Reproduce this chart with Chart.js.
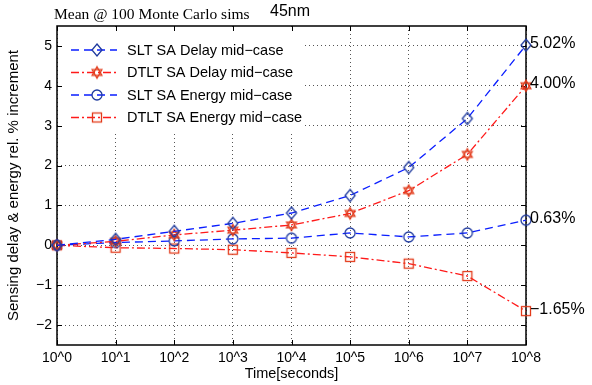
<!DOCTYPE html>
<html><head><meta charset="utf-8">
<script src="https://cdn.jsdelivr.net/npm/chart.js@4/dist/chart.umd.min.js"></script>
<style>html,body{margin:0;padding:0;background:#fff;overflow:hidden}</style>
</head><body>
<canvas id="c" width="592" height="385" style="width:592px;height:385px;display:block"></canvas>
<script>
// ---- data ----
const xLabels = ['10^0','10^1','10^2','10^3','10^4','10^5','10^6','10^7','10^8'];
const yTicks = [-2,-1,0,1,2,3,4,5];
const seriesNames = ['SLT SA Delay mid\u2212case','DTLT SA Delay mid\u2212case','SLT SA Energy mid\u2212case','DTLT SA Energy mid\u2212case'];
const sltDelay   = [0, 0.15, 0.35, 0.55, 0.81, 1.25, 1.95, 3.18, 5.02];
const dtltDelay  = [0, 0.10, 0.26, 0.38, 0.51, 0.80, 1.37, 2.28, 4.00];
const sltEnergy  = [0, 0.07, 0.11, 0.16, 0.18, 0.31, 0.21, 0.31, 0.63];
const dtltEnergy = [0, -0.06, -0.08, -0.11, -0.19, -0.29, -0.46, -0.77, -1.65];
const endLabels  = ['5.02%','4.00%','0.63%','\u22121.65%'];
const titleText = 'Mean @ 100 Monte Carlo sims';
const subText = '45nm';
const xTitle = 'Time[seconds]';
const yTitle = 'Sensing delay & energy rel. % increment';

// ---- styles ----
const BLUE = '#0a1eff', RED = '#ff1a1a', MBLUE = '#1f3a9e', MRED = '#e23a1a';
const SANS = '"Liberation Sans", Arial, sans-serif';
const SERIF = '"Liberation Serif", "Times New Roman", serif';

function mk(w, h, draw) {
  const c = document.createElement('canvas'); c.width = w; c.height = h;
  const g = c.getContext('2d'); draw(g, w / 2, h / 2); return c;
}
const diamondImg = mk(14, 16, (g, cx, cy) => {
  g.strokeStyle = MBLUE; g.lineWidth = 1.3; g.beginPath();
  g.moveTo(cx, cy - 6); g.lineTo(cx + 5, cy); g.lineTo(cx, cy + 6); g.lineTo(cx - 5, cy); g.closePath(); g.stroke();
});
const hexImg = mk(16, 16, (g, cx, cy) => {
  g.strokeStyle = MRED; g.lineWidth = 1.3; const r = 5.6;
  for (const off of [-Math.PI / 2, Math.PI / 2]) {
    g.beginPath();
    for (let k = 0; k < 3; k++) { const a = off + k * 2 * Math.PI / 3; const px = cx + r * Math.cos(a), py = cy + r * Math.sin(a); k ? g.lineTo(px, py) : g.moveTo(px, py); }
    g.closePath(); g.stroke();
  }
});
const circleImg = mk(14, 14, (g, cx, cy) => {
  g.strokeStyle = MBLUE; g.lineWidth = 1.3; g.beginPath(); g.arc(cx, cy, 5, 0, Math.PI * 2); g.stroke();
});
const squareImg = mk(14, 14, (g, cx, cy) => {
  g.strokeStyle = MRED; g.lineWidth = 1.3; g.strokeRect(cx - 4.5, cy - 4.5, 9, 9);
});
const markers = [diamondImg, hexImg, circleImg, squareImg];
const lineColors = [BLUE, RED, BLUE, RED];
const dashes = [[8, 5], [8, 3, 2, 3], [8, 5], [8, 3, 2, 3]];
const seriesData = [sltDelay, dtltDelay, sltEnergy, dtltEnergy];

const decorPlugin = {
  id: 'decor',
  beforeDatasetsDraw(chart) {
    const { ctx, chartArea: a, scales: { x, y } } = chart;
    ctx.save();
    // legend background
    ctx.fillStyle = '#fff';
    ctx.fillRect(a.left + 1, a.top + 1, 302 - a.left, 131 - a.top);
    // box
    ctx.strokeStyle = '#000'; ctx.lineWidth = 1.5;
    ctx.strokeRect(a.left, a.top, a.right - a.left, a.bottom - a.top);
    // inward ticks
    ctx.lineWidth = 1;
    ctx.beginPath();
    yTicks.forEach(v => { const py = Math.round(y.getPixelForValue(v)) + 0.5;
      ctx.moveTo(a.left, py); ctx.lineTo(a.left + 5, py); ctx.moveTo(a.right, py); ctx.lineTo(a.right - 5, py); });
    xLabels.forEach((l, i) => { const px = Math.round(x.getPixelForValue(i)) + 0.5;
      ctx.moveTo(px, a.top); ctx.lineTo(px, a.top + 5); ctx.moveTo(px, a.bottom); ctx.lineTo(px, a.bottom - 5); });
    ctx.stroke();
    // legend
    ctx.font = '14.5px ' + SANS; ctx.textBaseline = 'middle'; ctx.fillStyle = '#000';
    seriesNames.forEach((name, i) => {
      const ry = 50 + i * 22.5;
      ctx.strokeStyle = lineColors[i]; ctx.lineWidth = 1.3; ctx.setLineDash(dashes[i]);
      ctx.beginPath(); ctx.moveTo(71, ry); ctx.lineTo(117, ry); ctx.stroke();
      ctx.setLineDash([]);
      const m = markers[i]; ctx.drawImage(m, 97 - m.width / 2, ry - m.height / 2);
      ctx.fillText(name, 127, ry + 0.5);
    });
    ctx.restore();
  },
  afterDraw(chart) {
    const { ctx, chartArea: a, scales: { y } } = chart;
    ctx.save();
    ctx.fillStyle = '#000'; ctx.textBaseline = 'middle';
    ctx.font = '16px ' + SANS;
    seriesData.forEach((d, i) => {
      ctx.fillText(endLabels[i], a.right + 4, y.getPixelForValue(d[d.length - 1]) - 2);
    });
    ctx.font = '15.5px ' + SERIF; ctx.fillText(titleText, 54, 15);
    ctx.font = '16px ' + SANS; ctx.fillText(subText, 270, 12);
    ctx.restore();
  }
};

new Chart(document.getElementById('c'), {
  type: 'line',
  data: {
    labels: xLabels,
    datasets: seriesData.map((d, i) => ({
      label: seriesNames[i], data: d,
      borderColor: lineColors[i], borderWidth: 1.3, borderDash: dashes[i],
      pointStyle: markers[i], pointRadius: 5, pointHoverRadius: 5,
      backgroundColor: 'transparent', fill: false, tension: 0, clip: false
    }))
  },
  options: {
    responsive: false, animation: false, devicePixelRatio: 1,
    layout: { padding: { left: 5, right: 66, top: 26, bottom: 2 } },
    plugins: { legend: { display: false }, tooltip: { enabled: false }, title: { display: false } },
    scales: {
      x: {
        type: 'category', offset: false,
        afterFit: s => { s.height = 38; },
        grid: { color: '#555', lineWidth: 1, drawTicks: false },
        border: { display: false, dash: [1, 3] },
        ticks: { color: '#000', font: { family: SANS, size: 14 }, padding: 5, maxRotation: 0, autoSkip: false },
        title: { display: true, text: xTitle, color: '#000', font: { family: SANS, size: 14.5 }, padding: 0 }
      },
      y: {
        type: 'linear', min: -2.5, max: 5.5,
        afterBuildTicks: s => { s.ticks = yTicks.map(v => ({ value: v })); },
        afterFit: s => { s.width = 52; },
        grid: { color: '#555', lineWidth: 1, drawTicks: false },
        border: { display: false, dash: [1, 3] },
        ticks: { color: '#000', font: { family: SANS, size: 14 }, padding: 5,
          callback: v => (v < 0 ? '\u2212' + Math.abs(v) : String(v)) },
        title: { display: true, text: yTitle, color: '#000', font: { family: SANS, size: 15 }, padding: 0 }
      }
    }
  },
  plugins: [decorPlugin]
});
</script>
</body></html>
